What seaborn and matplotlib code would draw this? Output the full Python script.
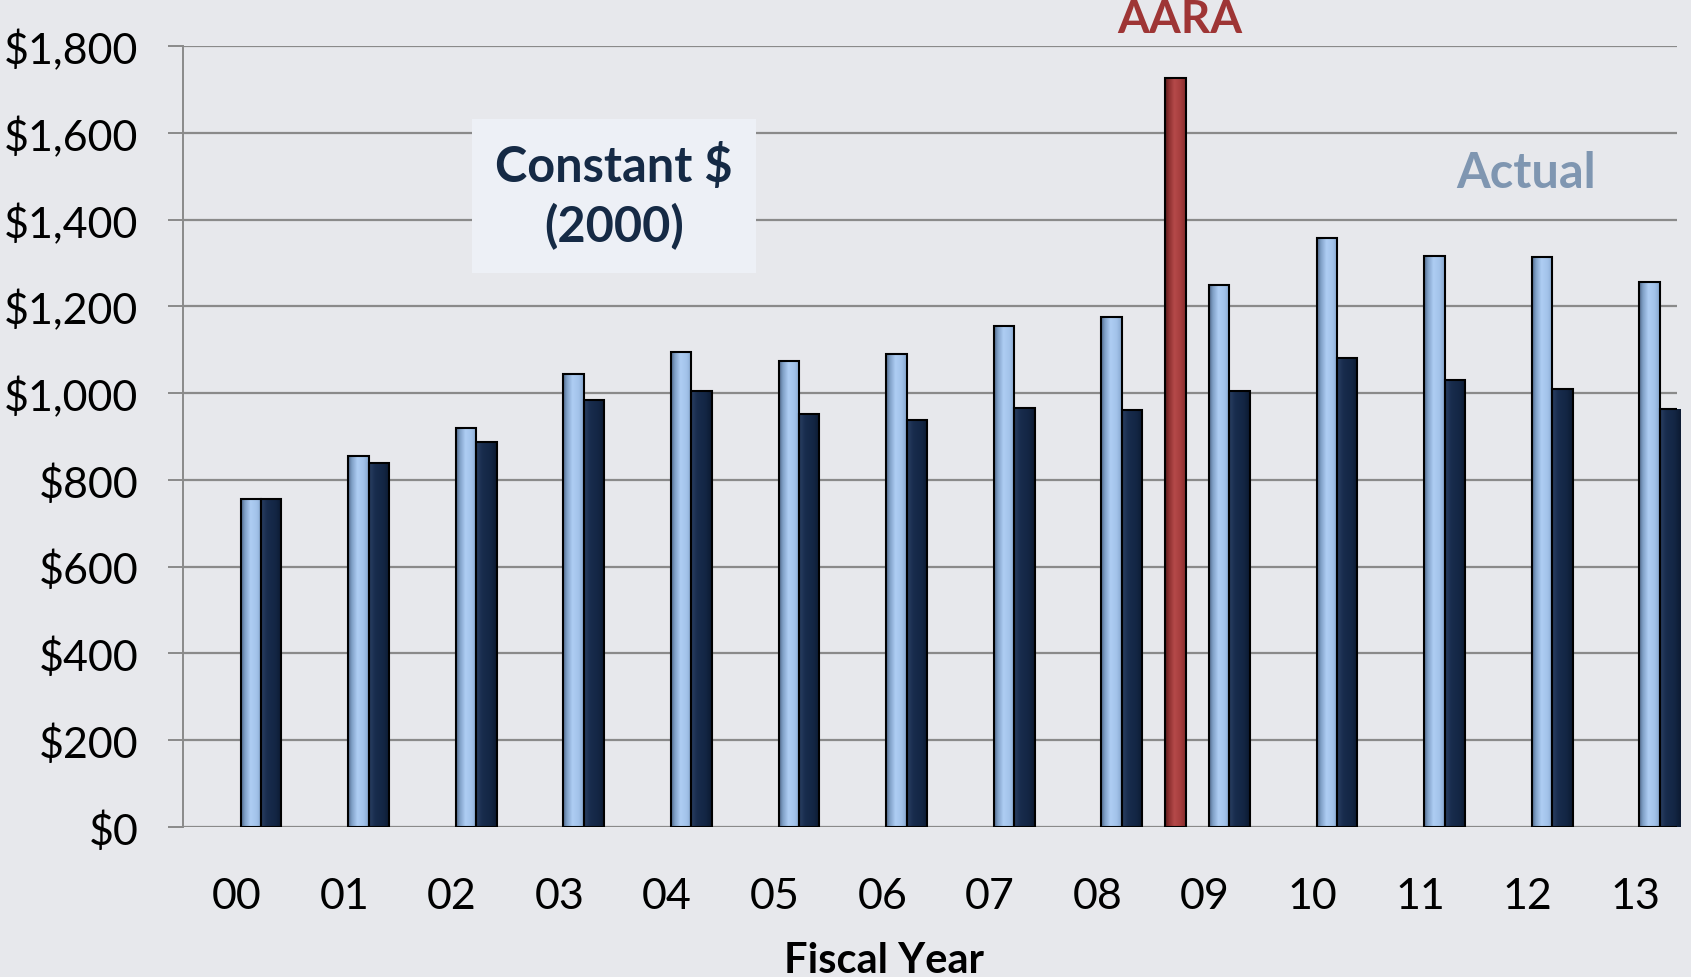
import numpy as np
import pandas as pd
import matplotlib
matplotlib.use("Agg")
import matplotlib.pyplot as plt
from matplotlib.colors import to_rgb
import seaborn as sns

# Fiscal years and funding levels ($ millions)
years = ["00", "01", "02", "03", "04", "05", "06", "07", "08", "09", "10", "11", "12", "13"]
actual = [757, 856, 920, 1043, 1095, 1073, 1090, 1155, 1175, 1249, 1357, 1317, 1314, 1255]
constant_2000 = [757, 838, 888, 983, 1006, 953, 938, 965, 960, 1006, 1082, 1031, 1009, 963]
arra_value = 1726
y_ticks = [0, 200, 400, 600, 800, 1000, 1200, 1400, 1600, 1800]

BG = "#e7e8ec"
LIGHT = "#9fc0e6"
DARK = "#15294a"
RED = "#a33a3a"
GRID = "#8a8a8a"

# horizontal shading stops (position, colour) that give the bars a rounded look
SHADES = {
    LIGHT: [(0.0, "#4f6888"), (0.18, "#7f9fc6"), (0.45, "#aecdf3"), (0.75, "#a3c3ea"), (1.0, "#86a6ce")],
    DARK: [(0.0, "#2a4063"), (0.3, "#182c4d"), (0.7, "#132644"), (1.0, "#0c1a32")],
    RED: [(0.0, "#5a1a1a"), (0.2, "#8e3030"), (0.45, "#b54a4a"), (0.75, "#a53d3d"), (1.0, "#862e2e")],
}

sns.set_theme(style="white")
plt.rcParams["font.family"] = ["Lato", "DejaVu Sans"]

df = pd.DataFrame({
    "year": years * 2,
    "value": actual + constant_2000,
    "series": ["Actual"] * len(years) + ["Constant $ (2000)"] * len(years),
})

fig = plt.figure(figsize=(16.91, 9.78), dpi=100, facecolor=BG)
ax = fig.add_axes([0.1082, 0.1534, 0.9917 - 0.1082, 0.9519 - 0.1534])
ax.set_facecolor(BG)

sns.barplot(data=df, x="year", y="value", hue="series", order=years,
            palette=[LIGHT, DARK], width=0.38, edgecolor="black",
            linewidth=1.5, saturation=1, legend=False, ax=ax, zorder=3)

# ARRA stimulus bar sits between FY08 and FY09
pos = {y: i for i, y in enumerate(years)}
arra_x = (pos["08"] + pos["09"]) / 2
ax.bar(arra_x, arra_value, width=0.195, color=RED, edgecolor="black",
       linewidth=1.5, zorder=3)


def gradient_row(stops, n=64):
    t = np.linspace(0, 1, n)
    pts = np.array([s[0] for s in stops])
    cols = np.array([to_rgb(s[1]) for s in stops])
    return np.stack([np.interp(t, pts, cols[:, k]) for k in range(3)], axis=1)[None, :, :]


# fill each bar with its shading, clipped to the bar outline
for patch in list(ax.patches):
    face = matplotlib.colors.to_hex(patch.get_facecolor()[:3])
    key = min(SHADES, key=lambda c: np.sum((np.array(to_rgb(c)) - np.array(to_rgb(face))) ** 2))
    x0, y0 = patch.get_x(), patch.get_y()
    w, h = patch.get_width(), patch.get_height()
    img = ax.imshow(gradient_row(SHADES[key]), extent=(x0, x0 + w, y0, y0 + h),
                    aspect="auto", interpolation="bilinear", zorder=3.1)
    img.set_clip_path(patch)
    patch.set_facecolor("none")
    patch.set_zorder(3.2)

ax.set_ylim(0, 1800)
ax.set_xlim(-0.725, 13.16)
ax.set_yticks(y_ticks)
ax.set_yticklabels([f"${v:,}" for v in y_ticks])
ax.set_xticks(np.arange(len(years)) - 0.226)
ax.set_xticklabels(years)

ax.yaxis.grid(True, color=GRID, linewidth=1.6, zorder=0)
ax.xaxis.grid(False)
for side in ["top", "right", "bottom"]:
    ax.spines[side].set_visible(False)
ax.spines["left"].set_color(GRID)
ax.spines["left"].set_linewidth(1.4)

ax.tick_params(axis="y", which="both", left=True, length=11, width=1.4,
               color=GRID, pad=21, labelsize=31, labelcolor="black")
ax.tick_params(axis="x", bottom=False, pad=30, labelsize=31, labelcolor="black")

ax.set_ylabel("")
ax.set_xlabel("Fiscal Year", fontsize=30, fontweight="bold", color="black")
ax.xaxis.set_label_coords(0.469, -0.17)
ax.xaxis.label.set_va("center")

# Series annotations
ax.text(3.28, 1455, "Constant $\n(2000)", ha="center", va="center",
        fontsize=35, fontweight="bold", color="#152a45", linespacing=1.33,
        zorder=4,
        bbox=dict(boxstyle="square,pad=0.48", facecolor="#edf0f6", edgecolor="none"))
ax.text(11.76, 1508, "Actual", ha="center", va="center", fontsize=35,
        fontweight="bold", color="#7f96b1", zorder=4)
ax.text(arra_x + 0.04, 1862, "AARA", ha="center", va="center", fontsize=33,
        fontweight="bold", color="#9e3535", clip_on=False, zorder=4)

fig.savefig("out.png", dpi=100, facecolor=BG)
